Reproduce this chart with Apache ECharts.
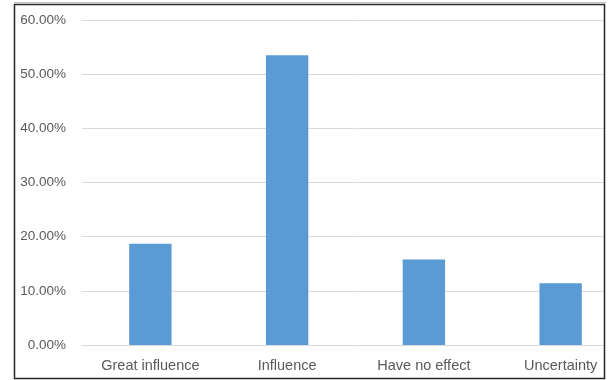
<!DOCTYPE html>
<html>
<head>
<meta charset="utf-8">
<script src="https://cdn.jsdelivr.net/npm/echarts@6/dist/echarts.min.js"></script>
<style>
  html, body { margin: 0; padding: 0; background: #fff; overflow: hidden; }
  #chart { width: 632px; height: 380px; }
</style>
</head>
<body>
<div id="chart"></div>
<script>
// Share of responses per category (percent)
const categories = ['Great influence', 'Influence', 'Have no effect', 'Uncertainty'];
const shares = [18.7, 53.5, 15.8, 11.4];
const yTicks = { min: 0, max: 60, interval: 10 };

const chart = echarts.init(document.getElementById('chart'));
const font = 'Liberation Sans, Arial, sans-serif';

chart.setOption({
  animation: false,
  grid: { left: 82, top: 20, right: 3, bottom: 35, containLabel: false },
  xAxis: {
    type: 'category',
    data: categories,
    axisLine: { lineStyle: { color: '#d9d9d9', width: 1 } },
    axisTick: { show: false },
    axisLabel: { color: '#595959', fontSize: 14.5, fontFamily: font, margin: 13 }
  },
  yAxis: {
    type: 'value',
    min: yTicks.min,
    max: yTicks.max,
    interval: yTicks.interval,
    axisLine: { show: false },
    axisTick: { show: false },
    splitLine: { lineStyle: { color: '#d9d9d9', width: 1 } },
    axisLabel: {
      color: '#595959', fontSize: 13.5, fontFamily: font, margin: 16,
      formatter: v => v.toFixed(2) + '%'
    }
  },
  series: [{
    type: 'bar',
    data: shares,
    barWidth: '31%',
    itemStyle: { color: '#5b9bd5' }
  }],
  graphic: [
    { type: 'rect', shape: { x: 605, y: 0, width: 40, height: 380 }, style: { fill: '#fff' }, z: 100 },
    { type: 'line', shape: { x1: 14, y1: 2.5, x2: 606, y2: 2.5 }, style: { stroke: '#bfbfbf', lineWidth: 1 }, z: 101 },
    { type: 'rect', shape: { x: 14.5, y: 4.5, width: 590, height: 374 }, style: { fill: 'none', stroke: '#262626', lineWidth: 1.5 }, z: 102 }
  ]
});
</script>
</body>
</html>
